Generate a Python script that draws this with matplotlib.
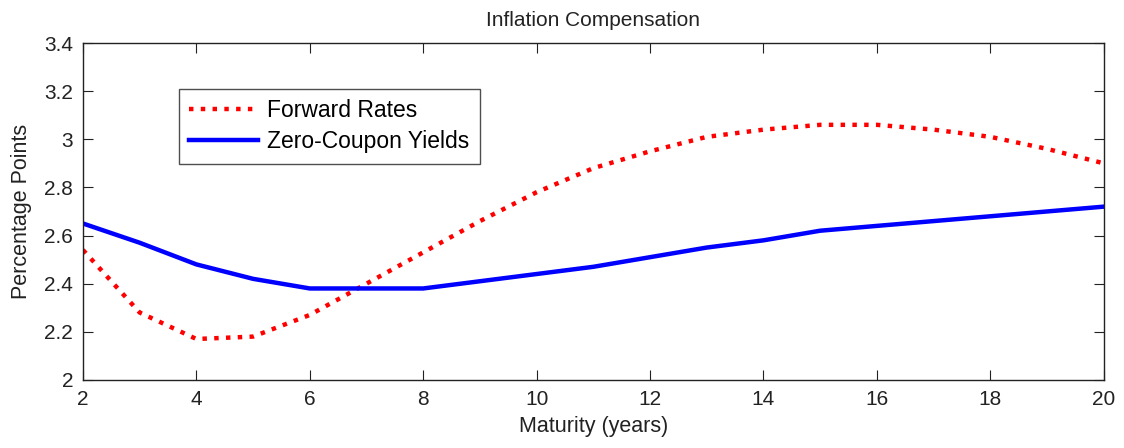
import numpy as np
from matplotlib import pyplot as plt

plt.rcParams['font.family'] = ['Liberation Sans', 'DejaVu Sans']

maturity = [2, 3, 4, 5, 6, 7, 8, 9, 10, 11, 12, 13, 14, 15, 16, 17, 18, 19, 20]
forward_rates = [2.54, 2.28, 2.17, 2.18, 2.27, 2.40, 2.53, 2.66, 2.78, 2.88,
                 2.95, 3.01, 3.04, 3.06, 3.06, 3.04, 3.01, 2.96, 2.90]
zero_coupon = [2.65, 2.57, 2.48, 2.42, 2.38, 2.38, 2.38, 2.41, 2.44, 2.47,
               2.51, 2.55, 2.58, 2.62, 2.64, 2.66, 2.68, 2.70, 2.72]
x_ticks = [2, 4, 6, 8, 10, 12, 14, 16, 18, 20]
y_ticks = [2, 2.2, 2.4, 2.6, 2.8, 3, 3.2, 3.4]
y_tick_labels = ['2', '2.2', '2.4', '2.6', '2.8', '3', '3.2', '3.4']

fig = plt.figure(figsize=(11.24, 4.48), dpi=100)
ax = fig.add_axes([0.0738, 0.152, 0.9082, 0.752])

ax.plot(maturity, forward_rates, color='#ff0000', linestyle=':', linewidth=3.2,
        label='Forward Rates')
ax.plot(maturity, zero_coupon, color='#0000ff', linestyle='-', linewidth=3.2,
        label='Zero-Coupon Yields')

ax.set_xlim(2, 20)
ax.set_ylim(2, 3.4)
ax.set_xticks(x_ticks)
ax.set_yticks(y_ticks)
ax.set_yticklabels(y_tick_labels)
ax.tick_params(direction='in', top=True, right=True, length=7.5, width=0.8,
               labelsize=15, colors='#222222', pad=7)
for spine in ax.spines.values():
    spine.set_linewidth(1.0)
    spine.set_color('#222222')

ax.set_title('Inflation Compensation', fontsize=15, color='#222222', pad=12)
ax.set_xlabel('Maturity (years)', fontsize=15.5, color='#222222', labelpad=5)
ax.set_ylabel('Percentage Points', fontsize=15.5, color='#222222', labelpad=9)

leg = ax.legend(loc='upper left', bbox_to_anchor=(0.094, 0.863), fontsize=16.5,
                frameon=True, fancybox=False, edgecolor='#222222',
                handlelength=3.0, borderpad=0.45, labelspacing=0.35,
                handletextpad=0.4, borderaxespad=0)
leg.get_frame().set_linewidth(1.0)

fig.savefig('out.png', dpi=100)
